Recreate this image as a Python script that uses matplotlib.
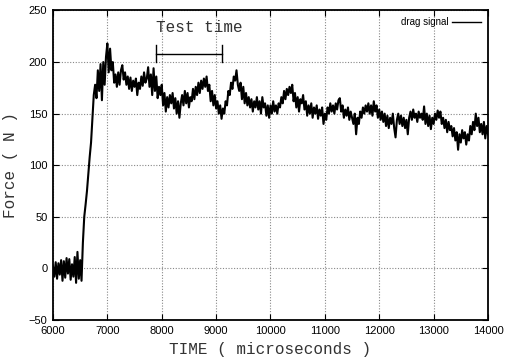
import numpy as np
import matplotlib
matplotlib.use("Agg")
import matplotlib.pyplot as plt

# drag signal, sampled every 25 microseconds from 6000 to 14000
t_start = 6000
t_step = 25
force = [
    2, -8, 6, -10, 5, -6, 8, -12,
    7, -9, 10, -5, 9, -11, 4, -8,
    11, -14, 16, -10, 8, -12, 25, 50,
    62, 75, 92, 108, 122, 145, 168, 178,
    165, 192, 172, 198, 163, 200, 178, 205,
    218, 190, 213, 192, 200, 180, 188, 176,
    190, 178, 192, 197, 183, 190, 178, 186,
    174, 185, 172, 182, 176, 184, 168, 180,
    174, 186, 177, 190, 180, 184, 195, 176,
    188, 168, 194, 172, 186, 165, 176, 168,
    178, 158, 170, 152, 166, 156, 168, 160,
    170, 155, 165, 150, 162, 146, 160, 168,
    158, 172, 160, 170, 156, 166, 162, 174,
    164, 176, 168, 180, 170, 182, 174, 184,
    176, 186, 172, 178, 162, 172, 158, 168,
    155, 162, 150, 158, 145, 155, 150, 162,
    158, 172, 168, 180, 174, 186, 182, 192,
    178, 172, 180, 164, 176, 160, 170, 158,
    166, 156, 164, 152, 162, 156, 166, 154,
    162, 150, 166, 156, 160, 148, 158, 146,
    158, 150, 162, 152, 158, 150, 160, 156,
    166, 160, 172, 164, 174, 168, 176, 170,
    178, 162, 170, 156, 166, 152, 164, 160,
    168, 154, 162, 148, 158, 150, 160, 146,
    156, 150, 158, 145, 154, 148, 156, 140,
    150, 144, 156, 150, 160, 152, 158, 150,
    160, 154, 163, 165, 152, 158, 146, 154,
    148, 156, 144, 152, 146, 140, 150, 130,
    146, 140, 152, 146, 156, 150, 158, 152,
    160, 150, 158, 148, 162, 152, 158, 146,
    154, 144, 152, 142, 150, 138, 148, 136,
    146, 140, 150, 136, 127, 144, 150, 140,
    148, 138, 146, 136, 144, 130, 146, 152,
    144, 154, 146, 150, 142, 152, 146, 150,
    144, 157, 140, 150, 138, 148, 135, 146,
    140, 150, 144, 153, 146, 152, 140, 146,
    136, 144, 132, 142, 134, 138, 128, 136,
    124, 132, 115, 130, 122, 134, 126, 132,
    120, 130, 124, 138, 130, 142, 134, 150,
    138, 146, 132, 140, 130, 142, 126, 138,
    130,
]
time = t_start + t_step * np.arange(len(force))

x_ticks = [6000, 7000, 8000, 9000, 10000, 11000, 12000, 13000, 14000]
y_ticks = [-50, 0, 50, 100, 150, 200, 250]

test_start = 7890
test_end = 9110
test_level = 207.5
test_tick_lo = 200
test_tick_hi = 217
test_label = "Test time"

fig = plt.figure(figsize=(5.07, 3.61), dpi=100)
ax = fig.add_axes([0.1045, 0.1136, 0.858, 0.8574])

ax.plot(time, force, color="black", lw=1.5, label="drag signal")

ax.set_xlim(6000, 14000)
ax.set_ylim(-50, 250)
ax.set_xticks(x_ticks)
ax.set_yticks(y_ticks)
ax.tick_params(direction="in", top=True, right=True, length=4, width=0.8,
               labelsize=8, pad=4)
for lab in ax.get_xticklabels() + ax.get_yticklabels():
    lab.set_family("Liberation Sans")
ax.grid(True, color="#888888", linestyle=(0, (1, 1.5)), lw=0.8)
for s in ax.spines.values():
    s.set_linewidth(1.3)

mono = "Liberation Mono"
ax.set_xlabel("TIME ( microseconds )", family=mono, fontsize=11.5, labelpad=5,
              color="#333333")
ax.set_ylabel("Force ( N )", family=mono, fontsize=11.5, labelpad=8,
              color="#333333")

# Test time bracket
ax.plot([test_start, test_end], [test_level, test_level], color="black", lw=1.0)
ax.plot([test_start, test_start], [test_tick_lo, test_tick_hi], color="black", lw=1.0)
ax.plot([test_end, test_end], [test_tick_lo, test_tick_hi], color="black", lw=1.0)
ax.text(8700, 233.5, test_label, family=mono, fontsize=11.5, ha="center",
        va="center", color="#333333")

leg = ax.legend(loc="upper right", frameon=False, markerfirst=False,
                handlelength=3.0, handletextpad=0.4, borderaxespad=0.3,
                prop={"family": "Liberation Sans", "size": 7})
leg.get_lines()[0].set_linewidth(1.0)

fig.savefig("out.png", dpi=100)
